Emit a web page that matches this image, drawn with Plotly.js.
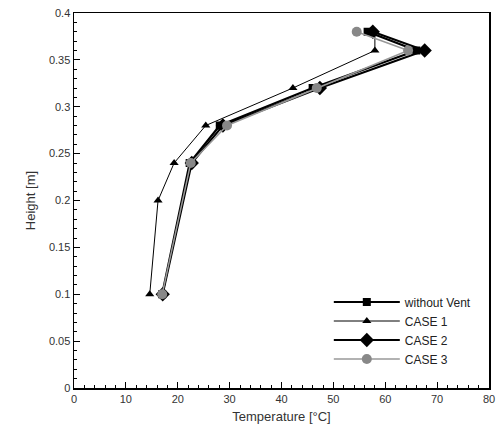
<!DOCTYPE html>
<html>
<head>
<meta charset="utf-8">
<script src="https://cdn.plot.ly/plotly-3.0.1.min.js"></script>
<style>html,body{margin:0;padding:0;background:#fff;}#chart{width:503px;height:436px;}</style>
</head>
<body>
<div id="chart"></div>
<script>
const heights = [0.1, 0.2, 0.24, 0.28, 0.32, 0.36, 0.38];
const heightsNo02 = [0.1, 0.24, 0.28, 0.32, 0.36, 0.38];
const tempWithoutVent = [17.0, 22.3, 28.1, 46.0, 66.0, 56.6];
const tempCase1 = [14.6, 16.2, 19.3, 25.4, 42.2, 58.0, 58.0];
const tempCase2 = [17.1, 22.7, 28.7, 47.4, 67.6, 57.6];
const tempCase3 = [17.0, 22.5, 29.5, 46.8, 64.4, 54.5];
const seriesNames = ["without Vent", "CASE 1", "CASE 2", "CASE 3"];

const traces = [
  {x: tempWithoutVent, y: heightsNo02, name: seriesNames[0], mode: "lines+markers",
   line: {color: "#000", width: 2.2}, marker: {symbol: "square", size: 8, color: "#000"}},
  {x: tempCase1, y: heights, name: seriesNames[1], mode: "lines+markers",
   line: {color: "#000", width: 1}, marker: {symbol: "triangle-up", size: 8, color: "#000"}},
  {x: tempCase2, y: heightsNo02, name: seriesNames[2], mode: "lines+markers",
   line: {color: "#000", width: 2}, marker: {symbol: "diamond", size: 11, color: "#000"}},
  {x: tempCase3, y: heightsNo02, name: seriesNames[3], mode: "lines+markers",
   line: {color: "#999", width: 1.5}, marker: {symbol: "circle", size: 10, color: "#888"}}
];

const layout = {
  width: 503, height: 436,
  margin: {l: 74, r: 14, t: 13, b: 48},
  paper_bgcolor: "#fff", plot_bgcolor: "#fff",
  font: {family: "Liberation Sans, Arial, sans-serif", color: "#333", size: 11},
  showlegend: true,
  legend: {x: 0.614, y: 0.268, xanchor: "left", yanchor: "top", bgcolor: "rgba(0,0,0,0)",
           font: {size: 12, color: "#222"}, tracegroupgap: 0, itemwidth: 66},
  xaxis: {
    range: [0, 80], dtick: 10, tick0: 0, showgrid: false, zeroline: false,
    showline: true, linecolor: "#000", linewidth: 1.5, mirror: true,
    ticks: "inside", ticklen: 6, tickcolor: "#000",
    minor: {dtick: 2, ticks: "inside", ticklen: 3, tickcolor: "#000", showgrid: false},
    tickfont: {size: 11, color: "#333"},
    title: {text: "Temperature [°C]", font: {size: 13, color: "#333"}, standoff: 8}
  },
  yaxis: {
    range: [0, 0.4], dtick: 0.05, tick0: 0, showgrid: false, zeroline: false,
    showline: true, linecolor: "#000", linewidth: 1.5, mirror: true,
    ticks: "inside", ticklen: 6, tickcolor: "#000",
    minor: {dtick: 0.01, ticks: "inside", ticklen: 3, tickcolor: "#000", showgrid: false},
    tickfont: {size: 11, color: "#333"},
    title: {text: "Height [m]", font: {size: 13, color: "#333"}, standoff: 10}
  }
};

Plotly.newPlot("chart", traces, layout, {displayModeBar: false, staticPlot: true});
</script>
</body>
</html>
